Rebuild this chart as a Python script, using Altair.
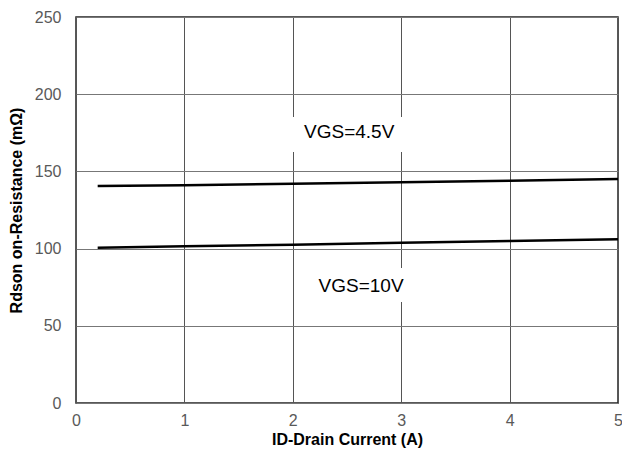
import altair as alt
import pandas as pd

x_vals = [0.2, 1, 2, 3, 4, 5]
vgs45 = [140.5, 141.0, 142.0, 143.0, 144.0, 145.0]
vgs10 = [100.5, 101.5, 102.5, 103.8, 105.0, 106.0]

labels = ["VGS=4.5V", "VGS=10V"]
label_x = [2.52, 2.63]
label_y = [175.5, 75.5]
box_x1 = [1.97, 2.07]
box_x2 = [3.10, 3.08]
box_y1 = [162.6, 65.4]
box_y2 = [185.2, 87.4]

df = pd.DataFrame({
    "x": x_vals * 2,
    "y": vgs45 + vgs10,
    "series": ["VGS=4.5V"] * len(x_vals) + ["VGS=10V"] * len(x_vals),
})
ldf = pd.DataFrame({"x": label_x, "y": label_y, "t": labels,
                    "x1": box_x1, "x2": box_x2, "y1": box_y1, "y2": box_y2})

xs = alt.Scale(domain=[0, 5], nice=False, zero=False)
ys = alt.Scale(domain=[0, 250], nice=False)

lines = alt.Chart(df).mark_line(color="black", strokeWidth=2.5).encode(
    x=alt.X("x:Q", scale=xs, axis=alt.Axis(
        title="ID-Drain Current (A)", values=[0, 1, 2, 3, 4, 5], format="d",
        grid=True, gridColor="#555", gridWidth=1, ticks=False, labelOverlap=False,
        labelFlush=False,
        domain=False, labelFontSize=16, labelColor="#595959", labelFont="Liberation Sans",
        labelPadding=9, titleFontSize=16, titleFont="Liberation Sans",
        titleFontWeight="bold", titlePadding=3, titleColor="black")),
    y=alt.Y("y:Q", scale=ys, axis=alt.Axis(
        title="Rdson on-Resistance (mΩ)", values=[0, 50, 100, 150, 200, 250], format="d",
        grid=True, gridColor="#777", gridWidth=1, ticks=False, labelOverlap=False,
        labelFlush=False,
        domain=False, labelFontSize=16, labelColor="#595959", labelFont="Liberation Sans",
        labelPadding=15, titleFontSize=16, titleFont="Liberation Sans",
        titleFontWeight="bold", titlePadding=10, titleColor="black")),
    detail="series:N",
)

boxes = alt.Chart(ldf).mark_rect(color="white").encode(
    x=alt.X("x1:Q", scale=xs), x2="x2:Q",
    y=alt.Y("y1:Q", scale=ys), y2="y2:Q")

text = alt.Chart(ldf).mark_text(fontSize=19, font="Liberation Sans", color="black").encode(
    x=alt.X("x:Q", scale=xs), y=alt.Y("y:Q", scale=ys), text="t:N")

chart = (lines + boxes + text).properties(
    width=542, height=386,
    autosize=alt.AutoSizeParams(type="none"),
    padding={"left": 68, "top": 9, "right": 4, "bottom": 49},
).configure_view(stroke="#222", strokeWidth=1.5)

chart.save("out.html", embed_options={"renderer": "svg", "actions": False})
